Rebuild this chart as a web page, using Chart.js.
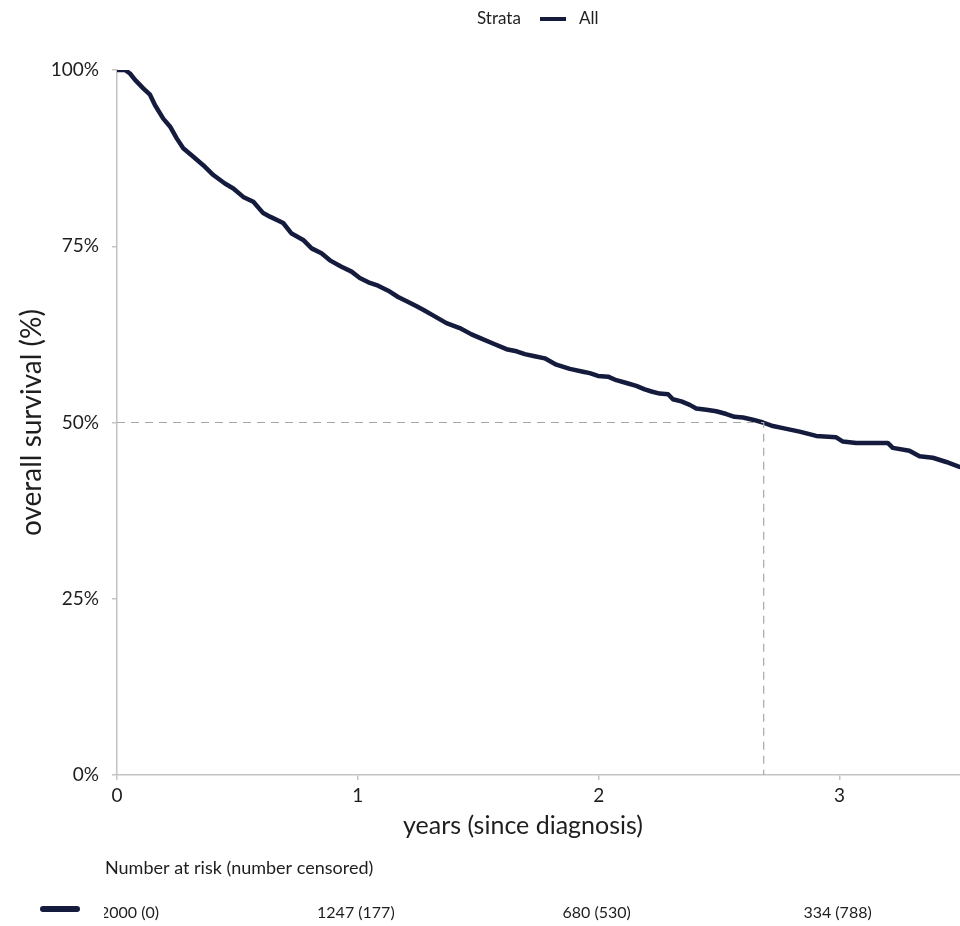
<!DOCTYPE html>
<html>
<head>
<meta charset="utf-8">
<script src="https://cdn.jsdelivr.net/npm/chart.js@4.4.1/dist/chart.umd.min.js"></script>
<style>
  html, body { margin: 0; padding: 0; background: #ffffff; }
  #wrap { position: relative; width: 960px; height: 926px; overflow: hidden; }
</style>
</head>
<body>
<div id="wrap"><canvas id="c"></canvas></div>
<script>
// ---- data ----
const timeYears = [0, 0.033, 0.054, 0.075, 0.109, 0.137, 0.158, 0.192, 0.220, 0.248, 0.275, 0.317, 0.358, 0.400, 0.448, 0.483, 0.524, 0.566, 0.607, 0.635, 0.690, 0.725, 0.773, 0.808, 0.849, 0.884, 0.932, 0.974, 1.008, 1.050, 1.084, 1.126, 1.167, 1.209, 1.244, 1.271, 1.312, 1.368, 1.423, 1.472, 1.513, 1.561, 1.617, 1.659, 1.693, 1.734, 1.776, 1.824, 1.880, 1.935, 1.963, 1.997, 2.039, 2.073, 2.115, 2.156, 2.191, 2.219, 2.253, 2.288, 2.308, 2.343, 2.378, 2.405, 2.447, 2.488, 2.530, 2.564, 2.599, 2.640, 2.682, 2.723, 2.765, 2.834, 2.903, 2.986, 3.014, 3.069, 3.200, 3.221, 3.290, 3.332, 3.387, 3.443, 3.498, 3.550];
const survival = [1.000, 1.000, 0.995, 0.986, 0.974, 0.965, 0.950, 0.931, 0.920, 0.903, 0.889, 0.877, 0.865, 0.851, 0.839, 0.832, 0.820, 0.813, 0.797, 0.792, 0.783, 0.768, 0.759, 0.747, 0.740, 0.730, 0.721, 0.714, 0.705, 0.698, 0.694, 0.687, 0.678, 0.671, 0.665, 0.660, 0.652, 0.641, 0.634, 0.625, 0.619, 0.612, 0.604, 0.601, 0.597, 0.594, 0.591, 0.582, 0.576, 0.572, 0.570, 0.566, 0.565, 0.560, 0.556, 0.552, 0.547, 0.544, 0.541, 0.540, 0.533, 0.530, 0.525, 0.520, 0.518, 0.516, 0.512, 0.508, 0.507, 0.504, 0.500, 0.495, 0.492, 0.487, 0.481, 0.479, 0.473, 0.471, 0.471, 0.464, 0.460, 0.452, 0.450, 0.444, 0.437, 0.433];
const medianTime = 2.685;
const medianSurvival = 0.5;
const xMin = 0, xMax = 3.5;
const yTickValues = [0, 0.25, 0.5, 0.75, 1];
const xTickValues = [0, 1, 2, 3];
const strataNames = ['All'];
const riskTimes = [0, 1, 2, 3];
const riskAtRisk = [2000, 1247, 680, 334];
const riskCensored = [0, 177, 530, 788];

const LINE = '#141b3d';
const AXIS = '#c4c4c4';
const TEXT = '#1e1e1e';
const FONT = 'Lato, "Open Sans", sans-serif';

const curve = timeYears.map((t, i) => ({ x: t, y: survival[i] }));
const medianPts = [{ x: xMin, y: medianSurvival }, { x: medianTime, y: medianSurvival }, { x: medianTime, y: 0 }];

const extras = {
  id: 'extras',
  afterDraw(chart) {
    const ctx = chart.ctx;
    const xs = chart.scales.x;
    const ca = chart.chartArea;
    ctx.save();
    // top legend
    ctx.fillStyle = TEXT;
    ctx.font = '17px ' + FONT;
    ctx.textBaseline = 'middle';
    ctx.textAlign = 'left';
    ctx.fillText('Strata', 477, 19);
    ctx.strokeStyle = LINE; ctx.lineWidth = 4; ctx.lineCap = 'butt';
    ctx.beginPath(); ctx.moveTo(540, 19); ctx.lineTo(566, 19); ctx.stroke();
    ctx.fillText(strataNames[0], 579, 19);
    // y title
    ctx.save();
    ctx.translate(32, (ca.top + ca.bottom) / 2);
    ctx.rotate(-Math.PI / 2);
    ctx.textAlign = 'center';
    ctx.font = '28px ' + FONT;
    ctx.fillText('overall survival (%)', 0, 0);
    ctx.restore();
    // x title
    ctx.textAlign = 'center';
    ctx.font = '25px ' + FONT;
    ctx.fillText('years (since diagnosis)', 523, 826);
    // risk table
    ctx.font = '18px ' + FONT;
    ctx.textAlign = 'left';
    ctx.fillText('Number at risk (number censored)', 105, 868);
    ctx.strokeStyle = LINE; ctx.lineWidth = 6; ctx.lineCap = 'round';
    ctx.beginPath(); ctx.moveTo(43, 909); ctx.lineTo(77, 909); ctx.stroke();
    ctx.save();
    ctx.beginPath(); ctx.rect(104, 890, 900, 40); ctx.clip();
    ctx.font = '16px ' + FONT;
    riskTimes.forEach((t, i) => {
      const label = riskAtRisk[i] + ' (' + riskCensored[i] + ')';
      const px = xs.getPixelForValue(t);
      if (i === 0) { ctx.textAlign = 'left'; ctx.fillText(label, px - 17, 913); }
      else { ctx.textAlign = 'center'; ctx.fillText(label, px - 2, 913); }
    });
    ctx.restore();
    ctx.restore();
  }
};

new Chart(document.getElementById('c'), {
  type: 'line',
  data: {
    datasets: [
      { label: 'median', data: medianPts, borderColor: '#a8a8a8', borderWidth: 1.2, borderDash: [8, 6], pointRadius: 0, fill: false, tension: 0 },
      { label: strataNames[0], data: curve, borderColor: LINE, borderWidth: 4.5, pointRadius: 0, fill: false, tension: 0, borderJoinStyle: 'round', borderCapStyle: 'round' }
    ]
  },
  options: {
    responsive: true,
    maintainAspectRatio: false,
    animation: false,
    layout: { padding: { top: 70, right: 0, bottom: 0, left: 0 } },
    plugins: { legend: { display: false }, tooltip: { enabled: false } },
    scales: {
      x: {
        type: 'linear', min: xMin, max: xMax,
        afterFit(s) { s.height = 151; },
        afterBuildTicks(s) { s.ticks = xTickValues.map(v => ({ value: v })); },
        ticks: { color: TEXT, font: { family: FONT, size: 19 }, padding: 4, maxRotation: 0, callback: v => String(v) },
        grid: { display: true, drawOnChartArea: false, drawTicks: true, tickLength: 5, color: AXIS, lineWidth: 1.5 },
        border: { display: true, color: AXIS, width: 1.5 }
      },
      y: {
        type: 'linear', min: 0, max: 1,
        afterFit(s) { s.width = 117; },
        afterBuildTicks(s) { s.ticks = yTickValues.map(v => ({ value: v })); },
        ticks: { color: TEXT, font: { family: FONT, size: 19 }, padding: 13, callback: v => Math.round(v * 100) + '%' },
        grid: { display: true, drawOnChartArea: false, drawTicks: true, tickLength: 5, color: AXIS, lineWidth: 1.5 },
        border: { display: true, color: AXIS, width: 1.5 }
      }
    }
  },
  plugins: [extras]
});
</script>
</body>
</html>
